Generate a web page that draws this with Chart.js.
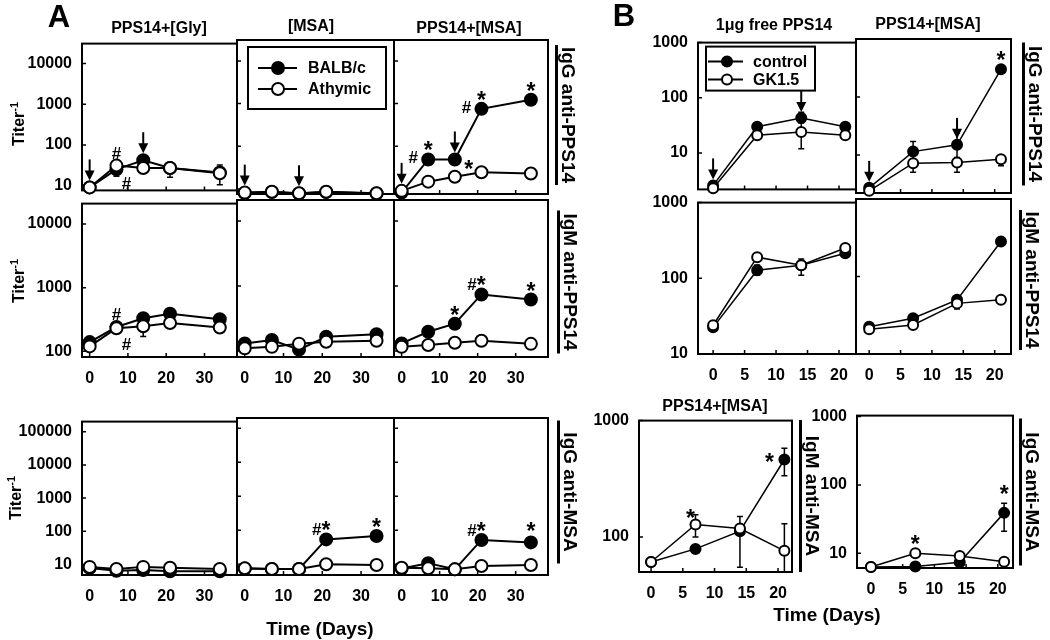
<!DOCTYPE html>
<html>
<head>
<meta charset="utf-8">
<script src="https://cdn.jsdelivr.net/npm/chart.js@4/dist/chart.umd.min.js"></script>
<style>
    body { margin: 0; background: #fff; width: 1050px; height: 640px; position: relative; overflow: hidden;
           font-family: "Liberation Sans", Arial, sans-serif; font-weight: bold; color: #000; }
    canvas { position: absolute; }
    .t { position: absolute; white-space: nowrap; transform: translate(-50%, -50%); }
    .side { position: absolute; box-sizing: border-box; height: 24px; line-height: 21px; font-size: 19px;
            text-align: center; border-bottom: 3px solid #000; white-space: nowrap;
            transform: translate(-50%, -50%) rotate(90deg); }
    sup { font-size: 11px; }
</style>
</head>
<body>
<script>
// ---- data ----
const daysA = [0, 7, 14, 21, 34];
const daysB = [0, 7, 14, 21];
const xTicksA = [0, 10, 20, 30];
const xTicksB = [0, 5, 10, 15, 20];
const yTicksA1 = [10, 100, 1000, 10000];
const yTicksA2 = [100, 1000, 10000];
const yTicksA3 = [10, 100, 1000, 10000, 100000];
const yTicksB = [10, 100, 1000];
const yTicksB2 = [100, 1000];
const legendA = ['BALB/c', 'Athymic'];
const legendB = ['control', 'GK1.5'];

// A: IgG anti-PPS14
const aGGlyBalb = [9, 25, 42, 27, 21];
const aGGlyAthy = [9, 31, 27, 27, 20];
const aGMsaBalb = [8, 8.5, 7.8, 8.5, 7.8];
const aGMsaAthy = [8.2, 8.6, 7.9, 8.6, 7.9];
const aGPpsBalb = [8.2, 49, 49, 753, 1235];
const aGPpsAthy = [9, 14.8, 19.3, 24.5, 23];
// A: IgM anti-PPS14
const aMGlyBalb = [139, 240, 330, 388, 318];
const aMGlyAthy = [119, 230, 246, 278, 236];
const aMMsaBalb = [131, 148, 105, 166, 181];
const aMMsaAthy = [110, 116, 130, 139, 144];
const aMPpsBalb = [131, 198, 263, 742, 620];
const aMPpsAthy = [116, 124, 134, 144, 129];
// A: IgG anti-MSA
const aSGlyBalb = [7.8, 6.5, 6.8, 6.3, 6.3];
const aSGlyAthy = [8.5, 7.3, 8.5, 8, 7.3];
const aSMsaBalb = [7.5, 7.3, 7.3, 54, 68];
const aSMsaAthy = [7.6, 7.3, 7.3, 10, 9.5];
const aSPpsBalb = [7.5, 10.8, 7.1, 52, 44];
const aSPpsAthy = [7.9, 7.6, 7.1, 8.9, 9.5];
// B
const bGFreeCtrl = [2.6, 30, 43, 30];
const bGFreeGk = [2.3, 21, 24, 21];
const bGMsaCtrl = [2.7, 11.4, 14.9, 300];
const bGMsaGk = [2.4, 7.2, 7.4, 8.4];
const bMFreeCtrl = [22.5, 128, 149, 214];
const bMFreeGk = [24, 190, 149, 251];
const bMMsaCtrl = [22.5, 29, 50, 283];
const bMMsaGk = [20.9, 23.7, 45, 50];
const bSMCtrl = [61, 79, 112, 463];
const bSMGk = [61, 128, 118, 76];
const bSGCtrl = [6.3, 6.4, 7.4, 39];
const bSGGk = [6.3, 10, 9.1, 7.5];

// error bars [low, high]
const aGGlyBalbErr = [null, [17, 32], null, null, null];
const aGGlyAthyErr = [null, null, null, [16, 36], [10.5, 32]];
const aMGlyAthyErr = [null, null, [170, 330], null, null];
const aSPpsBalbErr = [null, null, null, null, [37, 52]];
const bGFreeCtrlErr = [null, null, [35, 55], null];
const bGFreeGkErr = [null, [19, 23], [12, 45], null];
const bGMsaCtrlErr = [null, [8, 17], [9, 24], null];
const bGMsaGkErr = [null, [5, 8.5], [5, 9], [6.5, 9.5]];
const bMFreeCtrlErr = [null, [110, 150], null, [190, 240]];
const bMFreeGkErr = [null, [170, 210], [110, 180], null];
const bMMsaGkErr = [null, null, [38, 52], null];
const bSMCtrlErr = [null, null, [55, 150], [336, 580]];
const bSMGkErr = [null, [100, 155], null, [50, 130]];
const bSGCtrlErr = [null, null, null, [21, 54]];

// significance marks [text, day, value, placement] and booster arrows [day, value]
const aGGlyMarks = [['#', 7, 31, 'up'], ['#', 7, 31, 'downRight']];
const aGPpsMarks = [['#', 7, 49, 'left'], ['*', 7, 49, 'up'], ['*', 14, 49, 'right'],
                    ['#', 21, 753, 'left'], ['*', 21, 753, 'up'], ['*', 34, 1235, 'up']];
const aMGlyMarks = [['#', 7, 236, 'up'], ['#', 7, 236, 'downRight']];
const aMPpsMarks = [['*', 14, 263, 'up'], ['#*', 21, 742, 'upLeft'], ['*', 34, 620, 'up']];
const aSMsaMarks = [['#*', 21, 54, 'upLeft'], ['*', 34, 68, 'up']];
const aSPpsMarks = [['#*', 21, 52, 'upLeft'], ['*', 34, 52, 'up']];
const bGMsaMarks = [['*', 21, 300, 'up']];
const bSMMarks = [['*', 21, 463, 'left'], ['*', 7, 128, 'upLeft']];
const bSGMarks = [['*', 21, 54, 'up'], ['*', 7, 10, 'up']];
const aGGlyArrows = [[0, 9], [14, 42]];
const aGMsaArrows = [[0, 8.2], [14, 7.9]];
const aGPpsArrows = [[0, 9], [14, 49]];
const bGFreeArrows = [[0, 2.6], [14, 43]];
const bGMsaArrows = [[0, 2.7], [14, 14.9]];

// ---- drawing ----
const FAM = '"Liberation Sans", Arial, sans-serif';
const OFF = { up: [0, -13], left: [-15, -2], right: [14, 6], upLeft: [-5, -10], downRight: [10, 17] };

function txt(html, cx, cy, size, rot) {
    const d = document.createElement('div');
    d.className = 't';
    d.innerHTML = html;
    d.style.left = cx + 'px';
    d.style.top = cy + 'px';
    d.style.fontSize = size + 'px';
    if (rot) d.style.transform = 'translate(-50%, -50%) rotate(' + rot + 'deg)';
    document.body.appendChild(d);
}

function side(text, lineX, y0, y1) {
    const d = document.createElement('div');
    d.className = 'side';
    d.textContent = text;
    d.style.width = (y1 - y0) + 'px';
    d.style.left = (lineX + 11) + 'px';
    d.style.top = ((y0 + y1) / 2) + 'px';
    document.body.appendChild(d);
}

// '#' and '*' are drawn at different sizes, like in the original figure
function markFont(c) { return 'bold ' + (c === '*' ? 23 : 17) + 'px ' + FAM; }

function makeDeco(o) {
    return {
        id: 'deco',
        beforeDatasetsDraw(chart) {
            const { ctx, chartArea: a, scales: { x, y } } = chart;
            ctx.save();
            ctx.strokeStyle = '#000';
            ctx.lineWidth = 2;
            ctx.strokeRect(a.left, a.top, a.right - a.left, a.bottom - a.top);
            ctx.lineWidth = 1.5;
            ctx.beginPath();
            o.xTicks.forEach(v => { const p = x.getPixelForValue(v); ctx.moveTo(p, a.bottom); ctx.lineTo(p, a.bottom - 4); });
            o.yTicks.forEach(v => { const p = y.getPixelForValue(v); ctx.moveTo(a.left, p); ctx.lineTo(a.left + 4, p); });
            o.series.forEach(s => (s.err || []).forEach((e, j) => {
                if (!e) return;
                const p = x.getPixelForValue(o.days[j]);
                const lo = y.getPixelForValue(e[0]), hi = y.getPixelForValue(e[1]);
                ctx.moveTo(p, lo); ctx.lineTo(p, hi);
                ctx.moveTo(p - 3, lo); ctx.lineTo(p + 3, lo);
                ctx.moveTo(p - 3, hi); ctx.lineTo(p + 3, hi);
            }));
            ctx.stroke();
            ctx.restore();
        },
        afterDatasetsDraw(chart) {
            const { ctx, chartArea: a, scales: { x, y } } = chart;
            ctx.save();
            ctx.fillStyle = '#000';
            ctx.strokeStyle = '#000';
            // booster arrows
            (o.arrows || []).forEach(([d, v]) => {
                const px = x.getPixelForValue(d), tip = y.getPixelForValue(v) - o.pr - 1;
                ctx.lineWidth = 2;
                ctx.beginPath();
                ctx.moveTo(px, tip - 21); ctx.lineTo(px, tip - 8);
                ctx.stroke();
                ctx.beginPath();
                ctx.moveTo(px - 5, tip - 10); ctx.lineTo(px + 5, tip - 10); ctx.lineTo(px, tip);
                ctx.closePath();
                ctx.fill();
            });
            // # and * marks
            ctx.textAlign = 'left';
            ctx.textBaseline = 'alphabetic';
            (o.marks || []).forEach(([t, d, v, where]) => {
                const off = OFF[where];
                const px = x.getPixelForValue(d) + off[0], py = y.getPixelForValue(v) + off[1];
                const base = py + (t.includes('#') ? 6 : 12);
                const chars = t.split('');
                const ws = chars.map(c => { ctx.font = markFont(c); return ctx.measureText(c).width; });
                let cx = px - ws.reduce((s, w) => s + w, 0) / 2;
                chars.forEach((c, k) => {
                    ctx.font = markFont(c);
                    ctx.fillText(c, cx, c === '*' && t.length > 1 ? base + 3 : base);
                    cx += ws[k];
                });
            });
            // legend box
            if (o.legend) {
                const g = o.legend, L = a.left, T = a.top;
                ctx.lineWidth = 2;
                ctx.strokeRect(L + g.box[0], T + g.box[1], g.box[2] - g.box[0], g.box[3] - g.box[1]);
                ctx.font = 'bold 16px ' + FAM;
                ctx.textAlign = 'left';
                ctx.textBaseline = 'middle';
                g.labels.forEach((lab, i) => {
                    const yy = T + g.rows[i];
                    ctx.lineWidth = 2;
                    ctx.beginPath();
                    ctx.moveTo(L + g.line[0], yy); ctx.lineTo(L + g.line[1], yy);
                    ctx.stroke();
                    ctx.beginPath();
                    ctx.arc(L + g.mx, yy, g.r, 0, Math.PI * 2);
                    ctx.fillStyle = i === 0 ? '#000' : '#fff';
                    ctx.fill();
                    ctx.stroke();
                    ctx.fillStyle = '#000';
                    ctx.fillText(lab, L + g.tx, yy + 1);
                });
            }
            ctx.restore();
        }
    };
}

function panel(o) {
    const M = 16, L = o.showY ? 90 : 0, B = o.showX ? 40 : 0;
    const [l, t, r, b] = o.rect;
    const cv = document.createElement('canvas');
    cv.width = (r - l) + L + 2 * M;
    cv.height = (b - t) + B + 2 * M;
    cv.style.left = (l - L - M) + 'px';
    cv.style.top = (t - M) + 'px';
    document.body.appendChild(cv);
    const font = { family: FAM, size: 16, weight: 'bold' };
    new Chart(cv, {
        type: 'line',
        data: {
            datasets: o.series.map(s => ({
                data: o.days.map((d, j) => ({ x: d, y: s.values[j] })),
                borderColor: '#000',
                borderWidth: o.lw,
                pointRadius: o.pr,
                pointBorderWidth: 2,
                pointBorderColor: '#000',
                pointBackgroundColor: s.open ? '#fff' : '#000',
                order: s.open ? 0 : 1,
                clip: false,
                tension: 0
            }))
        },
        options: {
            responsive: false,
            animation: false,
            events: [],
            layout: { padding: M },
            plugins: { legend: { display: false }, tooltip: { enabled: false } },
            scales: {
                x: {
                    type: 'linear', min: o.xMin, max: o.xMax,
                    grid: { display: false, drawTicks: false }, border: { display: false },
                    afterBuildTicks: s => { s.ticks = o.xTicks.map(v => ({ value: v })); },
                    afterFit: s => { s.height = B; },
                    ticks: { display: o.showX, padding: 12, autoSkip: false, maxRotation: 0, color: '#000', font, callback: v => String(v) }
                },
                y: {
                    type: 'logarithmic', min: o.yMin, max: o.yMax,
                    grid: { display: false, drawTicks: false }, border: { display: false },
                    afterBuildTicks: s => { s.ticks = o.yTicks.map(v => ({ value: v })); },
                    afterFit: s => { s.width = L; },
                    ticks: { display: o.showY, padding: 10, autoSkip: false, color: '#000', font, callback: v => String(v) }
                }
            }
        },
        plugins: [makeDeco(o)]
    });
}

// ---- panel A ----
const colA = [[82, 237], [237, 394], [394, 548]];
const rowA = [[40, 194, 7.6, 31000, yTicksA1], [200, 357, 81, 21000, yTicksA2], [418, 575, 4.84, 201000, yTicksA3]];
const panelsA = [
    [[aGGlyBalb, aGGlyBalbErr], [aGGlyAthy, aGGlyAthyErr], aGGlyMarks, aGGlyArrows],
    [[aGMsaBalb], [aGMsaAthy], null, aGMsaArrows],
    [[aGPpsBalb], [aGPpsAthy], aGPpsMarks, aGPpsArrows],
    [[aMGlyBalb], [aMGlyAthy, aMGlyAthyErr], aMGlyMarks, null],
    [[aMMsaBalb], [aMMsaAthy], null, null],
    [[aMPpsBalb], [aMPpsAthy], aMPpsMarks, null],
    [[aSGlyBalb], [aSGlyAthy], null, null],
    [[aSMsaBalb], [aSMsaAthy], aSMsaMarks, null],
    [[aSPpsBalb, aSPpsBalbErr], [aSPpsAthy], aSPpsMarks, null]
];
panelsA.forEach((p, i) => {
    const row = rowA[Math.floor(i / 3)], col = colA[i % 3];
    panel({
        rect: [col[0], row[0], col[1], row[1]],
        days: daysA, xMin: -2, xMax: 38.5, xTicks: xTicksA,
        yMin: row[2], yMax: row[3], yTicks: row[4],
        showY: i % 3 === 0, showX: i >= 3,
        lw: 2, pr: 6,
        series: [{ values: p[0][0], err: p[0][1] }, { values: p[1][0], err: p[1][1], open: true }],
        marks: p[2], arrows: p[3],
        legend: i === 1 ? { labels: legendA, box: [11, 7, 149, 69], rows: [28, 49], line: [21, 60], mx: 41, tx: 71, r: 6 } : null
    });
});

// ---- panel B ----
const panelsB = [
    { rect: [698, 39, 856, 193], yMin: 2.2, yMax: 1000, yTicks: yTicksB, showY: true, showX: false, xMin: -2.4, xMax: 22.7,
      series: [{ values: bGFreeCtrl, err: bGFreeCtrlErr }, { values: bGFreeGk, err: bGFreeGkErr, open: true }], arrows: bGFreeArrows,
      legend: { labels: legendB, box: [8, 4, 117, 48], rows: [19, 37], line: [10, 45], mx: 29, tx: 55, r: 5 } },
    { rect: [856, 39, 1011, 193], yMin: 2.2, yMax: 1000, yTicks: yTicksB, showY: false, showX: false, xMin: -2.1, xMax: 22.6,
      series: [{ values: bGMsaCtrl, err: bGMsaCtrlErr }, { values: bGMsaGk, err: bGMsaGkErr, open: true }], arrows: bGMsaArrows, marks: bGMsaMarks },
    { rect: [698, 199, 856, 354], yMin: 10, yMax: 1000, yTicks: yTicksB, showY: true, showX: true, xMin: -2.4, xMax: 22.7,
      series: [{ values: bMFreeCtrl, err: bMFreeCtrlErr }, { values: bMFreeGk, err: bMFreeGkErr, open: true }] },
    { rect: [856, 199, 1011, 354], yMin: 10, yMax: 1000, yTicks: yTicksB, showY: false, showX: true, xMin: -2.1, xMax: 22.6,
      series: [{ values: bMMsaCtrl }, { values: bMMsaGk, err: bMMsaGkErr, open: true }] },
    { rect: [639, 417, 792, 572], yMin: 50, yMax: 1000, yTicks: yTicksB2, showY: true, showX: true, xMin: -1.9, xMax: 22.2,
      series: [{ values: bSMCtrl, err: bSMCtrlErr }, { values: bSMGk, err: bSMGkErr, open: true }], marks: bSMMarks },
    { rect: [857, 412, 1013, 568], yMin: 6.1, yMax: 1030, yTicks: yTicksB, showY: true, showX: true, xMin: -2.2, xMax: 22.4,
      series: [{ values: bSGCtrl, err: bSGCtrlErr }, { values: bSGGk, open: true }], marks: bSGMarks }
];
panelsB.forEach(p => panel(Object.assign({ days: daysB, xTicks: xTicksB, lw: 1.5, pr: 5 }, p)));

// ---- text ----
txt('A', 59, 17, 31);
txt('B', 624, 16, 31);
txt('PPS14+[Gly]', 159, 28, 16);
txt('[MSA]', 311, 26, 16);
txt('PPS14+[MSA]', 469, 28, 16);
txt('1&mu;g free PPS14', 774, 25, 16);
txt('PPS14+[MSA]', 928, 24, 16);
txt('PPS14+[MSA]', 715, 406, 16);
txt('Titer<sup>-1</sup>', 18, 124, 16, -90);
txt('Titer<sup>-1</sup>', 18, 281, 16, -90);
txt('Titer<sup>-1</sup>', 15, 498, 16, -90);
txt('Time (Days)', 320, 629, 19);
txt('Time (Days)', 827, 615, 19);
side('IgG anti-PPS14', 556, 45, 185);
side('IgM anti-PPS14', 558, 210, 353);
side('IgG anti-MSA', 558, 420, 563);
side('IgG anti-PPS14', 1023, 42, 185);
side('IgM anti-PPS14', 1020, 210, 350);
side('IgM anti-MSA', 800, 420, 572);
side('IgG anti-MSA', 1020, 418, 565);
</script>
</body>
</html>
